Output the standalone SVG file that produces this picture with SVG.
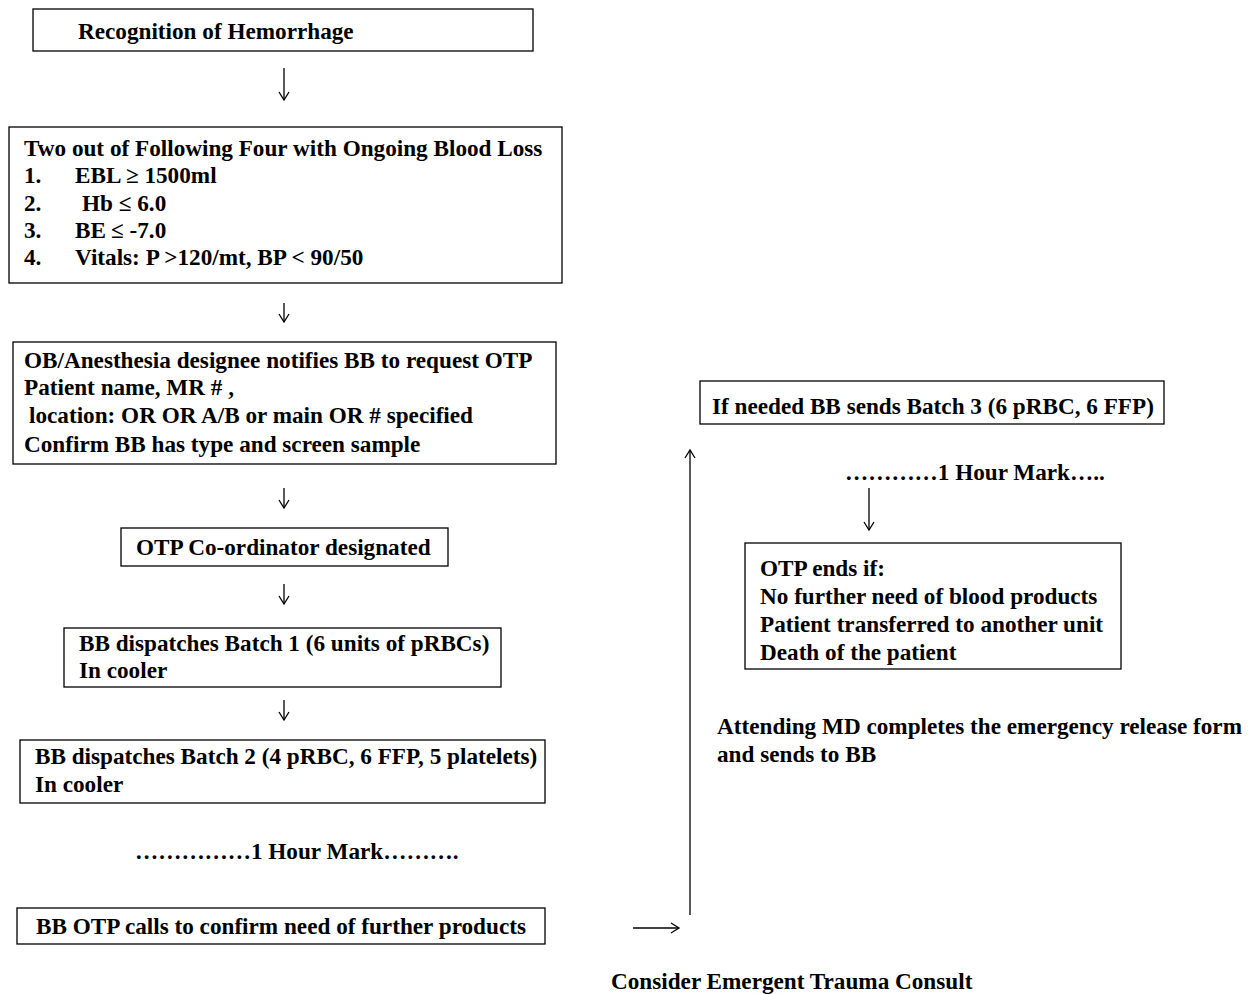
<svg xmlns="http://www.w3.org/2000/svg" width="1250" height="994" viewBox="0 0 1250 994">
<defs>
<style>
.box{fill:#fff;stroke:#000;stroke-width:1.3}
text{font-family:"Liberation Serif","Times New Roman",serif;font-weight:bold;font-size:23.2px;fill:#000}
.conn{stroke:#000;stroke-width:1.3;fill:none}
</style>
<marker id="vh" viewBox="0 0 12 12" refX="10" refY="6" markerWidth="12" markerHeight="12" markerUnits="userSpaceOnUse" orient="auto">
<path d="M2,1 L10,6 L2,11" fill="none" stroke="#000" stroke-width="1.3"/>
</marker>
</defs>
<rect width="1250" height="994" fill="#fff"/>
<g id="connectors">
<line class="conn" x1="284" y1="68" x2="284" y2="100" marker-end="url(#vh)"/>
<line class="conn" x1="284" y1="303" x2="284" y2="322" marker-end="url(#vh)"/>
<line class="conn" x1="284" y1="488" x2="284" y2="508" marker-end="url(#vh)"/>
<line class="conn" x1="284" y1="584" x2="284" y2="604" marker-end="url(#vh)"/>
<line class="conn" x1="284" y1="700" x2="284" y2="720" marker-end="url(#vh)"/>
<line class="conn" x1="633" y1="928" x2="679" y2="928" marker-end="url(#vh)"/>
<line class="conn" x1="690" y1="915" x2="690" y2="450" marker-end="url(#vh)"/>
<line class="conn" x1="869" y1="488" x2="869" y2="530" marker-end="url(#vh)"/>
</g>
<g id="n1">
<rect class="box" x="33" y="9" width="500" height="42"/>
<text x="78" y="39">Recognition of Hemorrhage</text>
</g>
<g id="n2">
<rect class="box" x="9" y="127" width="553" height="156"/>
<text x="24" y="156">Two out of Following Four with Ongoing Blood Loss</text>
<text x="24" y="183">1.</text><text x="75" y="183">EBL ≥ 1500ml</text>
<text x="24" y="211">2.</text><text x="82" y="211">Hb ≤ 6.0</text>
<text x="24" y="238">3.</text><text x="75" y="238">BE</text><text x="111" y="238">≤ -7.0</text>
<text x="24" y="265">4.</text><text x="75" y="265">Vitals: P &gt;120/mt, BP &lt; 90/50</text>
</g>
<g id="n3">
<rect class="box" x="13" y="342" width="543" height="122"/>
<text x="24" y="368">OB/Anesthesia designee notifies BB to request OTP</text>
<text x="24" y="395">Patient name, MR # ,</text>
<text x="29" y="423">location: OR OR A/B or main OR # specified</text>
<text x="24" y="452">Confirm BB has type and screen sample</text>
</g>
<g id="n4">
<rect class="box" x="121" y="528" width="327" height="38"/>
<text x="136" y="555">OTP Co-ordinator designated</text>
</g>
<g id="n5">
<rect class="box" x="64" y="628" width="437" height="59"/>
<text x="79" y="651">BB dispatches Batch 1 (6 units of pRBCs)</text>
<text x="79" y="678">In cooler</text>
</g>
<g id="n6">
<rect class="box" x="20" y="740" width="525" height="63"/>
<text x="35" y="764">BB dispatches Batch 2 (4 pRBC, 6 FFP, 5 platelets)</text>
<text x="35" y="792">In cooler</text>
</g>
<g id="t1">
<text x="135" y="859">……………1 Hour Mark……….</text>
</g>
<g id="n7">
<rect class="box" x="17" y="908" width="528" height="36"/>
<text x="36" y="934">BB OTP calls to confirm need of further products</text>
</g>
<g id="n8">
<rect class="box" x="700" y="381" width="464" height="43"/>
<text x="712" y="414">If needed BB sends Batch 3 (6 pRBC, 6 FFP)</text>
</g>
<g id="t2">
<text x="845" y="480">…………1 Hour Mark…..</text>
</g>
<g id="n9">
<rect class="box" x="745" y="543" width="376" height="126"/>
<text x="760" y="576">OTP ends if:</text>
<text x="760" y="604">No further need of blood products</text>
<text x="760" y="632">Patient transferred to another unit</text>
<text x="760" y="660">Death of the patient</text>
</g>
<g id="t3">
<text x="717" y="734">Attending MD completes the emergency release form</text>
<text x="717" y="762">and sends to BB</text>
</g>
<g id="t4">
<text x="611" y="989">Consider Emergent Trauma Consult</text>
</g>
</svg>
